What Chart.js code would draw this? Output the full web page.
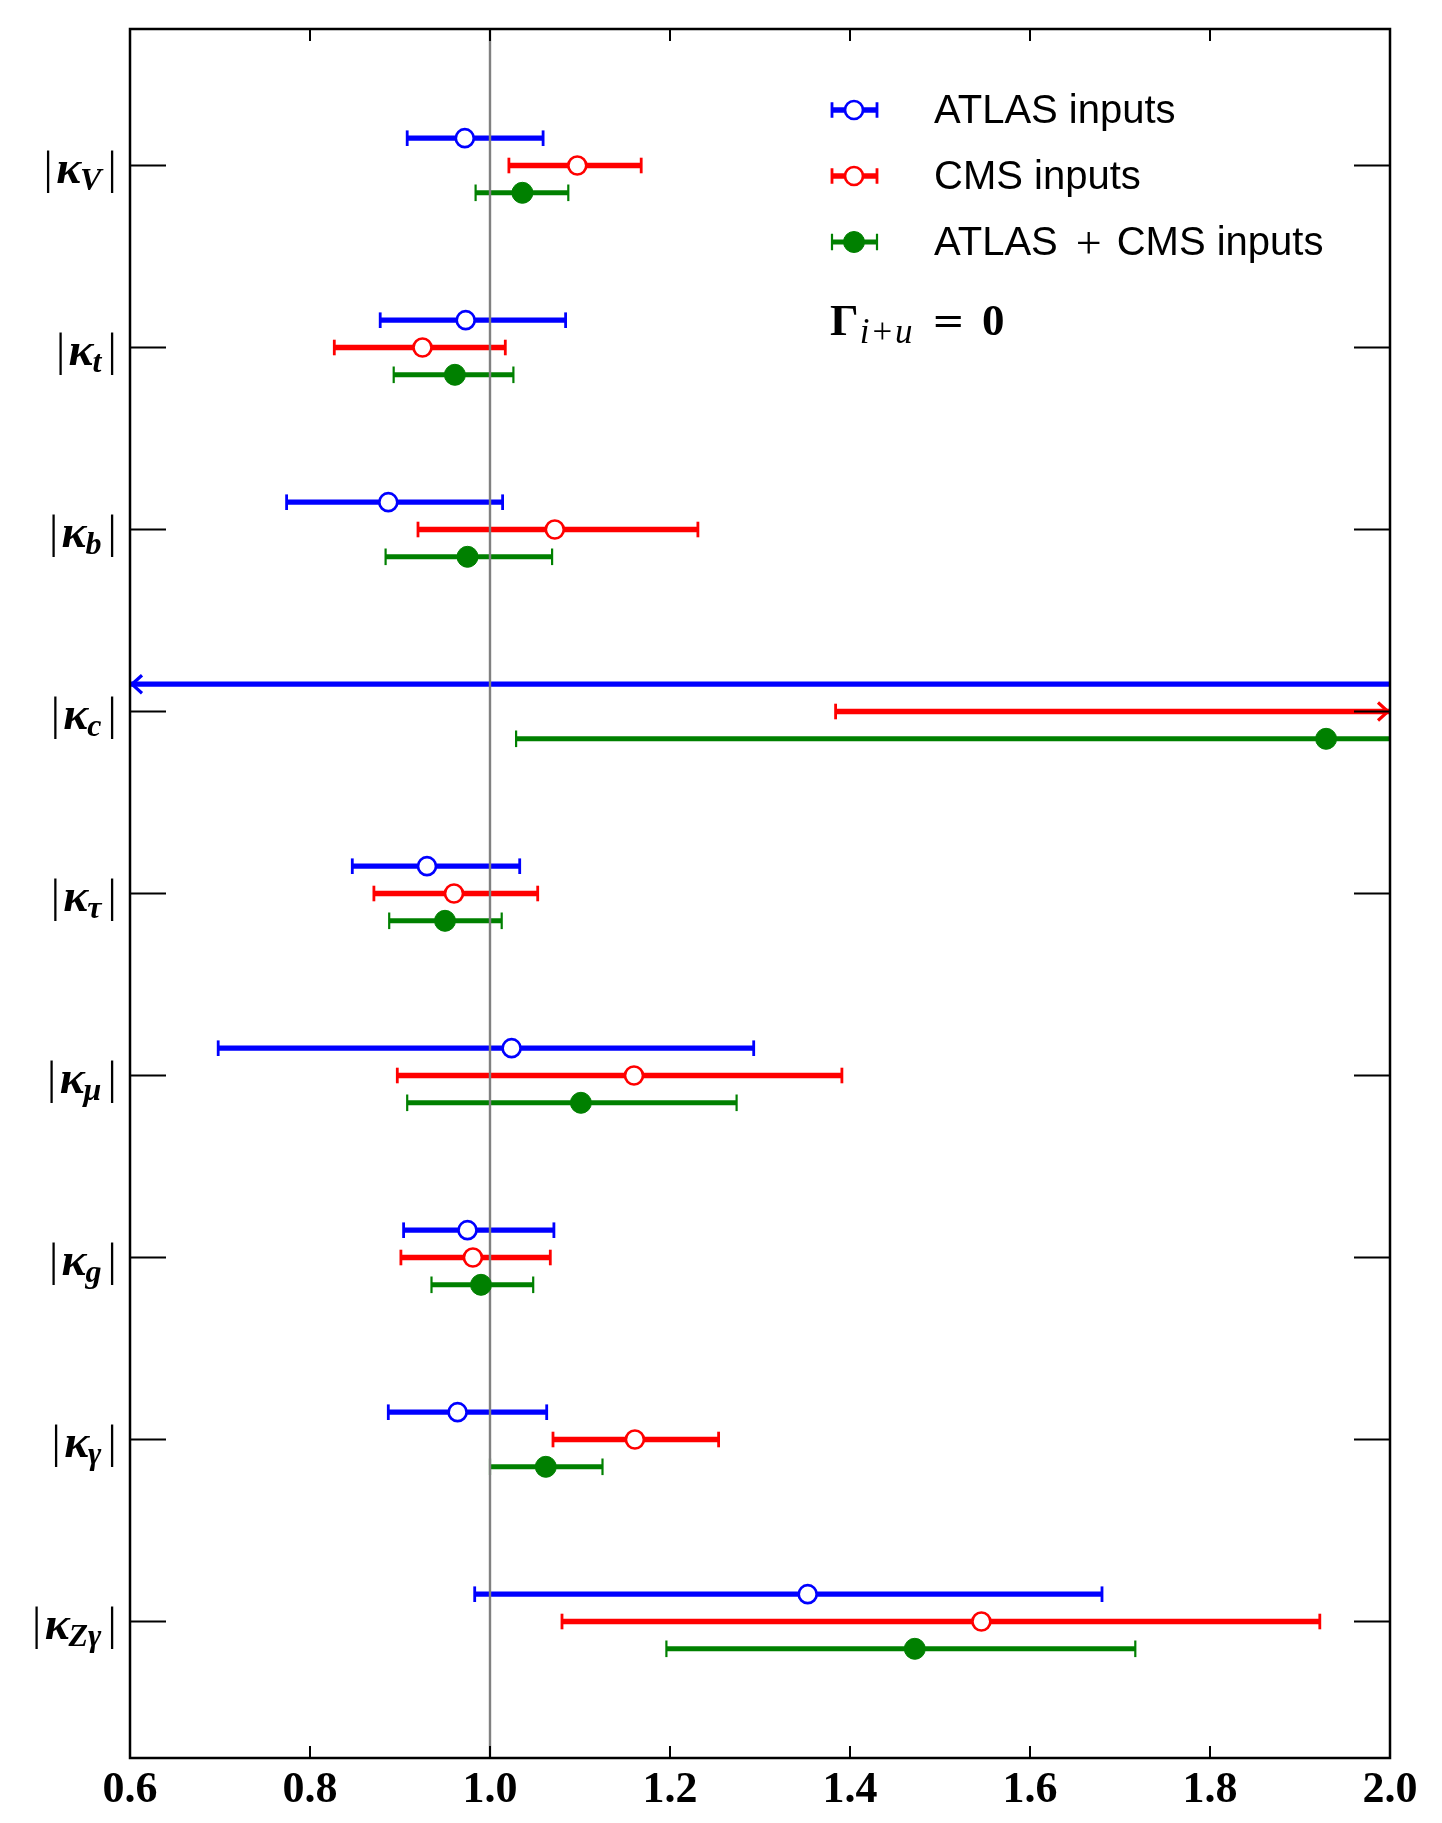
<!DOCTYPE html>
<html><head><meta charset="utf-8">
<script src="https://cdn.jsdelivr.net/npm/chart.js@4.4.1/dist/chart.umd.min.js"></script>
<style>html,body{margin:0;padding:0;background:#fff;}#wrap{width:1442px;height:1823px;position:relative;}</style>
</head><body><div id="wrap"><canvas id="c"></canvas></div>
<script>
// ---- data ----
const categories = ['V','t','b','c','τ','μ','g','γ','Zγ'];   // |κ_X|
const catPos = [9,8,7,6,5,4,3,2,1];
const xTicks = [0.6,0.8,1.0,1.2,1.4,1.6,1.8,2.0];
const seriesLabels = ['ATLAS inputs','CMS inputs','ATLAS + CMS inputs'];

const atlasCentral = [0.972,0.973,0.887,null, 0.930,1.024,0.975,0.964,1.353];
const atlasLow     = [0.908,0.878,0.774,0.0,  0.847,0.698,0.904,0.887,0.983];
const atlasHigh    = [1.059,1.084,1.014,2.5,  1.033,1.293,1.071,1.063,1.680];
const atlasArrow   = [null,null,null,'left',null,null,null,null,null];

const cmsCentral = [1.097,0.925,1.072,null, 0.960,1.160,0.981,1.161,1.546];
const cmsLow     = [1.021,0.827,0.920,1.384,0.871,0.897,0.901,1.070,1.080];
const cmsHigh    = [1.168,1.017,1.231,2.5,  1.053,1.391,1.067,1.254,1.922];
const cmsArrow   = [null,null,null,'right',null,null,null,null,null];

const combCentral = [1.036,0.961,0.975,1.929,0.950,1.101,0.990,1.062,1.472];
const combLow     = [0.984,0.893,0.884,1.029,0.888,0.908,0.935,1.000,1.196];
const combHigh    = [1.087,1.026,1.069,2.5,  1.013,1.274,1.048,1.125,1.717];
const combArrow   = [null,null,null,null,null,null,null,null,null];

const refLine = 1.0;

// ---- styles ----
const series = [
  {label:seriesLabels[0], color:'#0000ff', fill:'#ffffff', c:atlasCentral, lo:atlasLow, hi:atlasHigh, arrow:atlasArrow, dy:0.15, lw:5.3, capW:2.8, ch:7.8, r:9, bw:2.7},
  {label:seriesLabels[1], color:'#ff0000', fill:'#ffffff', c:cmsCentral, lo:cmsLow, hi:cmsHigh, arrow:cmsArrow, dy:0.0, lw:5.3, capW:2.8, ch:7.8, r:9, bw:2.7},
  {label:seriesLabels[2], color:'#008000', fill:'#008000', c:combCentral, lo:combLow, hi:combHigh, arrow:combArrow, dy:-0.15, lw:5.0, capW:2.2, ch:8.3, r:10.5, bw:1}
];

const canvas = document.getElementById('c');
canvas.width = 1442; canvas.height = 1823;
canvas.style.width = '1442px'; canvas.style.height = '1823px';

function drawBar(ctx, xs, ys, s, i, area) {
  const lo = s.lo[i], hi = s.hi[i];
  const y = ys.getPixelForValue(catPos[i] + s.dy);
  let x1 = xs.getPixelForValue(lo), x2 = xs.getPixelForValue(hi);
  const loIn = x1 >= area.left - 0.5, hiIn = x2 <= area.right + 0.5;
  x1 = Math.max(x1, area.left); x2 = Math.min(x2, area.right);
  ctx.strokeStyle = s.color;
  ctx.lineWidth = s.lw; ctx.lineCap = 'butt';
  ctx.beginPath(); ctx.moveTo(x1, y); ctx.lineTo(x2, y); ctx.stroke();
  ctx.lineWidth = s.capW;
  if (loIn) { ctx.beginPath(); ctx.moveTo(x1, y-s.ch); ctx.lineTo(x1, y+s.ch); ctx.stroke(); }
  if (hiIn) { ctx.beginPath(); ctx.moveTo(x2, y-s.ch); ctx.lineTo(x2, y+s.ch); ctx.stroke(); }
  const a = s.arrow[i];
  ctx.lineWidth = 3.2; ctx.lineJoin = 'miter';
  if (a === 'left') { ctx.beginPath(); ctx.moveTo(x1+12, y-9); ctx.lineTo(x1+2, y); ctx.lineTo(x1+12, y+9); ctx.stroke(); }
  if (a === 'right') { ctx.beginPath(); ctx.moveTo(x2-12, y-9); ctx.lineTo(x2-2, y); ctx.lineTo(x2-12, y+9); ctx.stroke(); }
}

const errPlugin = {
  id:'errbars',
  beforeDatasetsDraw(chart) {
    const ctx = chart.ctx, xs = chart.scales.x, ys = chart.scales.y, area = chart.chartArea;
    ctx.save();
    ctx.beginPath(); ctx.rect(area.left, area.top, area.right-area.left, area.bottom-area.top); ctx.clip();
    series.forEach(s => categories.forEach((c, i) => drawBar(ctx, xs, ys, s, i, area)));
    const xr = xs.getPixelForValue(refLine);
    ctx.strokeStyle = '#808080'; ctx.lineWidth = 2.4;
    ctx.beginPath(); ctx.moveTo(xr, area.top); ctx.lineTo(xr, area.bottom); ctx.stroke();
    ctx.restore();
  },
  afterDraw(chart) {
    const ctx = chart.ctx, xs = chart.scales.x, ys = chart.scales.y, area = chart.chartArea;
    ctx.save();
    ctx.strokeStyle = '#000'; ctx.lineWidth = 2.5;
    ctx.strokeRect(area.left, area.top, area.right-area.left, area.bottom-area.top);
    ctx.lineWidth = 2;
    xTicks.forEach(v => {
      const x = xs.getPixelForValue(v);
      ctx.beginPath(); ctx.moveTo(x, area.bottom); ctx.lineTo(x, area.bottom-12); ctx.stroke();
      ctx.beginPath(); ctx.moveTo(x, area.top); ctx.lineTo(x, area.top+12); ctx.stroke();
    });
    catPos.forEach(v => {
      const y = ys.getPixelForValue(v);
      ctx.beginPath(); ctx.moveTo(area.left, y); ctx.lineTo(area.left+36, y); ctx.stroke();
      ctx.beginPath(); ctx.moveTo(area.right, y); ctx.lineTo(area.right-36, y); ctx.stroke();
    });
    // y category labels |κ_X|
    ctx.fillStyle = '#000'; ctx.textBaseline = 'alphabetic'; ctx.textAlign = 'left';
    const fBar = '46px "Liberation Serif"', fK = 'bold italic 47px "Liberation Serif"', fS = 'bold italic 32px "Liberation Serif"';
    categories.forEach((sub, i) => {
      const y = ys.getPixelForValue(catPos[i]);
      ctx.font = fBar; const wb = ctx.measureText('|').width;
      ctx.font = fK; const wk = ctx.measureText('κ').width;
      ctx.font = fS; const ws = ctx.measureText(sub).width;
      const rightBarX = 112 - wb/2;
      const subEnd = rightBarX - 6;
      const subX = subEnd - ws;
      const kX = subX - wk + 1;
      const lBarX = kX - 8 - wb/2;
      ctx.font = fBar; ctx.fillText('|', lBarX, y+17); ctx.fillText('|', rightBarX, y+17);
      ctx.font = fK; ctx.fillText('κ', kX, y+17);
      ctx.font = fS; ctx.fillText(sub, subX, y+24);
    });
    // legend
    series.forEach((s, k) => {
      const y = 110 + k*66, xc = 854, xl = 832, xh = 877;
      ctx.strokeStyle = s.color; ctx.lineWidth = s.lw;
      ctx.beginPath(); ctx.moveTo(xl, y); ctx.lineTo(xh, y); ctx.stroke();
      ctx.lineWidth = s.capW;
      ctx.beginPath(); ctx.moveTo(xl, y-s.ch); ctx.lineTo(xl, y+s.ch); ctx.moveTo(xh, y-s.ch); ctx.lineTo(xh, y+s.ch); ctx.stroke();
      ctx.beginPath(); ctx.arc(xc, y, s.r, 0, Math.PI*2);
      ctx.fillStyle = s.fill; ctx.fill(); ctx.lineWidth = s.bw; ctx.stroke();
      ctx.fillStyle = '#000'; ctx.font = '40px "Liberation Sans"'; ctx.textBaseline = 'middle';
      const parts = s.label.split(' + ');
      let tx = 934;
      parts.forEach((p, j) => {
        if (j > 0) {
          tx += 18; ctx.font = '46px "Liberation Serif"'; ctx.fillText('+', tx, y+4);
          tx += ctx.measureText('+').width + 15; ctx.font = '40px "Liberation Sans"';
        }
        ctx.fillText(p, tx, y+2); tx += ctx.measureText(p).width;
      });
    });
    // Γ_{i+u} = 0
    ctx.textBaseline = 'alphabetic';
    let gx = 830; const gy = 335;
    ctx.font = 'bold 45px "Liberation Serif"'; ctx.fillText('Γ', gx, gy); gx += ctx.measureText('Γ').width + 1;
    ctx.font = 'italic 35px "Liberation Serif"';
    ctx.fillText('i', gx, gy+8); gx += ctx.measureText('i').width + 1;
    ctx.fillText('+', gx, gy+8); gx += ctx.measureText('+').width + 1;
    ctx.fillText('u', gx, gy+8); gx += ctx.measureText('u').width + 19;
    ctx.font = '40px "DejaVu Serif"'; ctx.fillText('=', gx, gy-1); gx += ctx.measureText('=').width + 17;
    ctx.font = 'bold 45px "Liberation Serif"'; ctx.fillText('0', gx, gy);
    ctx.restore();
  }
};

const mkData = s => catPos.map((p, i) => s.c[i] == null ? null : {x: s.c[i], y: p + s.dy}).filter(d => d);

new Chart(canvas, {
  type: 'scatter',
  data: {
    datasets: series.map(s => ({
      label: s.label, data: mkData(s),
      pointRadius: s.r, pointHoverRadius: s.r,
      pointBackgroundColor: s.fill, pointBorderColor: s.color, pointBorderWidth: s.bw,
      showLine: false
    }))
  },
  options: {
    responsive: false, animation: false, devicePixelRatio: 1,
    layout: {padding: {left: 130, right: 52, top: 29, bottom: 0}},
    plugins: {legend: {display: false}, tooltip: {enabled: false}},
    scales: {
      x: {
        type: 'linear', min: 0.6, max: 2.0, position: 'bottom',
        afterBuildTicks: sc => { sc.ticks = xTicks.map(v => ({value: v})); },
        afterFit: sc => { sc.height = 65; },
        grid: {display: false, drawTicks: false}, border: {display: false},
        ticks: {autoSkip: false, maxRotation: 0, padding: 6, color: '#000',
          font: {family: '"Liberation Serif"', size: 44, weight: 'bold'},
          callback: v => Number(v).toFixed(1)}
      },
      y: {
        type: 'linear', min: 0.25, max: 9.75,
        afterBuildTicks: sc => { sc.ticks = catPos.map(v => ({value: v})); },
        afterFit: sc => { sc.width = 0; },
        grid: {display: false, drawTicks: false}, border: {display: false},
        ticks: {display: false}
      }
    }
  },
  plugins: [errPlugin]
});
</script></body></html>
